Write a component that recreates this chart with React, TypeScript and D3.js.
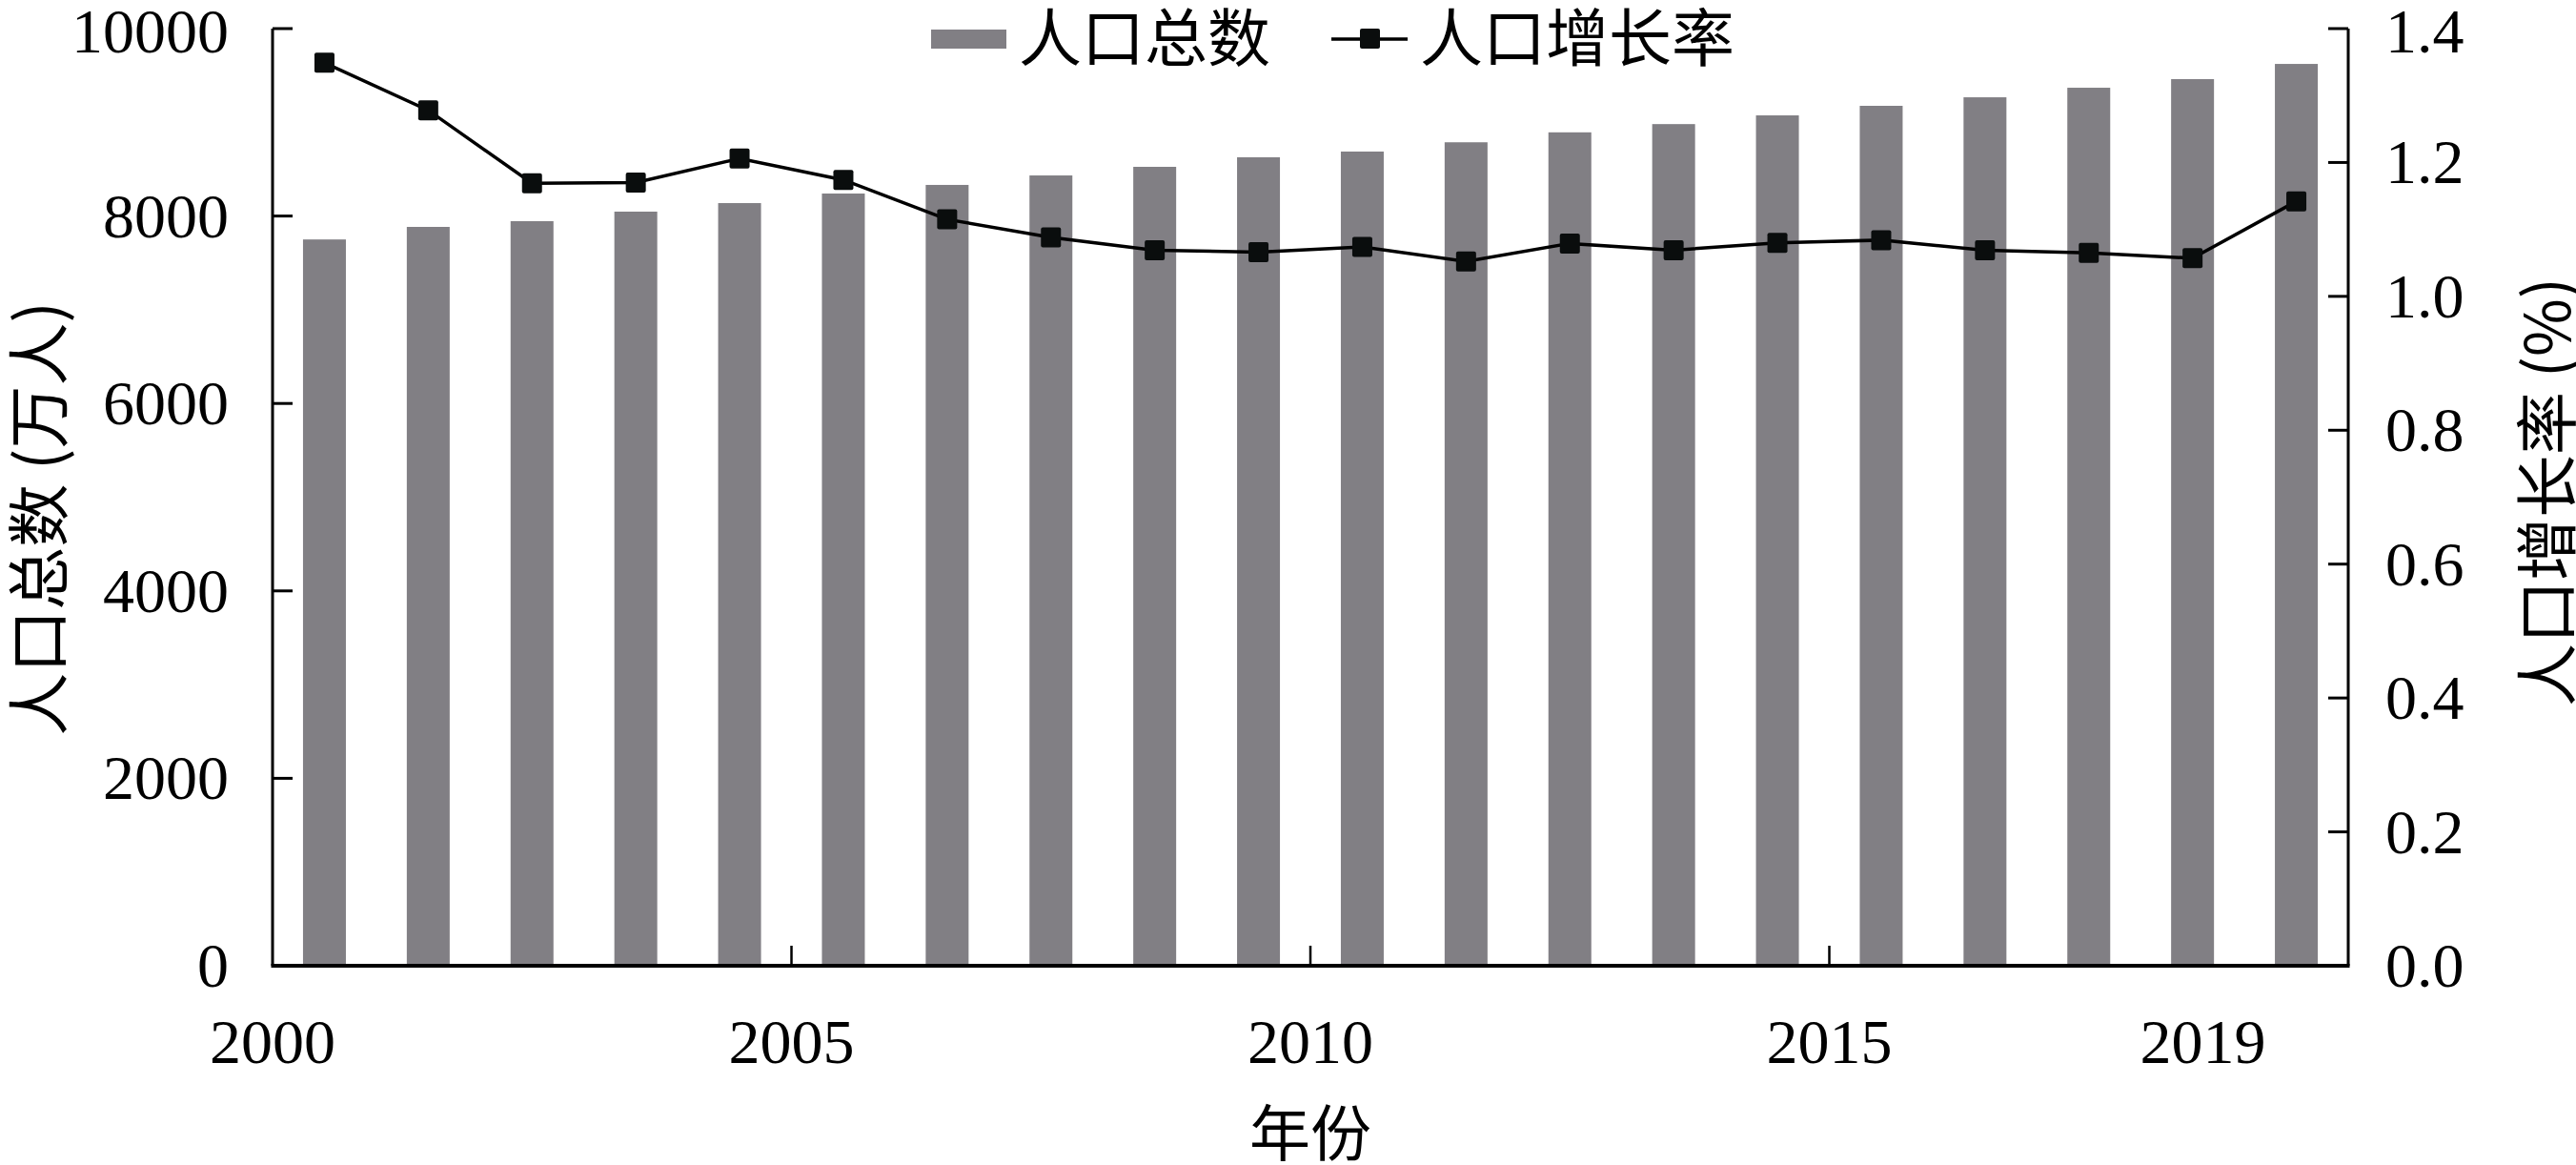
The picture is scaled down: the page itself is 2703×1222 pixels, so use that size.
import React from "react";
import * as d3 from "d3";

const years = [2000, 2001, 2002, 2003, 2004, 2005, 2006, 2007, 2008, 2009, 2010, 2011, 2012, 2013, 2014, 2015, 2016, 2017, 2018, 2019];
const population = [7750, 7884, 7945, 8047, 8138, 8240, 8332, 8433, 8525, 8627, 8688, 8787, 8893, 8981, 9074, 9176, 9267, 9369, 9461, 9623];
const growthRate = [1.349, 1.278, 1.169, 1.17, 1.206, 1.174, 1.115, 1.088, 1.069, 1.066, 1.074, 1.052, 1.079, 1.069, 1.08, 1.084, 1.069, 1.065, 1.057, 1.142];
const leftTicks = [0, 2000, 4000, 6000, 8000, 10000];
const rightTicks = [0, 0.2, 0.4, 0.6, 0.8, 1.0, 1.2, 1.4];
const xTickMarks = [2005, 2010, 2015];
const xTickLabels = [
  { pos: 2000, label: "2000" },
  { pos: 2005, label: "2005" },
  { pos: 2010, label: "2010" },
  { pos: 2015, label: "2015" },
  { pos: 2018.6, label: "2019" },
];
const seriesNames = ["人口总数", "人口增长率"];
const xTitle = "年份";
const leftTitle = "人口总数 (万人)";
const rightTitle = "人口增长率 (%)";

const W = 2703;
const H = 1222;
const L = 286;
const R = 2464;
const T = 30;
const B = 1013;
const BAR = "#817f84";
const FONT = "'Liberation Serif', 'Times New Roman', 'Noto Sans CJK SC', serif";
const CJK = "'Noto Sans CJK SC', 'Liberation Serif', serif";
const FS = 66;

export default function App() {
  const x = d3.scaleLinear().domain([2000, 2020]).range([L, R]);
  const yL = d3.scaleLinear().domain([0, 10000]).range([B, T]);
  const yR = d3.scaleLinear().domain([0, 1.4]).range([B, T]);
  const barW = 45;
  const tickLen = 21;
  const line = d3
    .line<number>()
    .x((_, i) => x(years[i] + 0.5))
    .y((d) => yR(d));
  const ms = 21;

  return (
    <svg
      width={W}
      height={H}
      viewBox={`0 0 ${W} ${H}`}
      style={{ position: "absolute", left: 0, top: 0, background: "#fff" }}
    >
      <rect x={0} y={0} width={W} height={H} fill="#fff" />
      {population.map((v, i) => (
        <rect
          key={"b" + i}
          x={x(years[i] + 0.5) - barW / 2}
          y={yL(v)}
          width={barW}
          height={yL(0) - yL(v)}
          fill={BAR}
        />
      ))}
      <g stroke="#000" strokeWidth={3} fill="none">
        <line x1={L} y1={T} x2={L} y2={B} />
        <line x1={R} y1={T} x2={R} y2={B} />
        <line x1={L - 1.5} y1={B} x2={R + 1.5} y2={B} strokeWidth={4} />
        {leftTicks.map((t) => (
          <line key={"lt" + t} x1={L} x2={L + tickLen} y1={yL(t)} y2={yL(t)} />
        ))}
        {rightTicks.map((t) => (
          <line key={"rt" + t} x1={R} x2={R - tickLen} y1={yR(t)} y2={yR(t)} />
        ))}
        {xTickMarks.map((t) => (
          <line key={"xt" + t} x1={x(t)} x2={x(t)} y1={B} y2={B - tickLen} strokeWidth={2.5} />
        ))}
      </g>
      <path d={line(growthRate) || ""} fill="none" stroke="#000" strokeWidth={3.5} />
      {growthRate.map((v, i) => (
        <rect
          key={"m" + i}
          x={x(years[i] + 0.5) - ms / 2}
          y={yR(v) - ms / 2}
          width={ms}
          height={ms}
          rx={2}
          fill="#0a0d0d"
        />
      ))}
      <g fontFamily={FONT} fontSize={FS} fill="#000">
        {leftTicks.map((t) => (
          <text key={"ll" + t} x={240} y={yL(t) + 22 + (t === 10000 ? 3 : 0)} textAnchor="end">
            {String(t)}
          </text>
        ))}
        {rightTicks.map((t) => (
          <text key={"rl" + t} x={2503} y={yR(t) + 22 + (t === 1.4 ? 3 : 0)} textAnchor="start">
            {t.toFixed(1)}
          </text>
        ))}
        {xTickLabels.map((t) => (
          <text key={"xl" + t.label} x={x(t.pos)} y={1115} textAnchor="middle">
            {t.label}
          </text>
        ))}
      </g>
      <text x={x(2010)} y={1184} fontFamily={CJK} fontSize={64} textAnchor="middle" dominantBaseline="central">
        {xTitle}
      </text>
      <text
        transform={`translate(36,544) rotate(-90)`}
        fontFamily={CJK}
        fontSize={FS}
        textAnchor="middle"
        dominantBaseline="central"
      >
        {leftTitle}
      </text>
      <text
        transform={`translate(2668,516) rotate(-90)`}
        fontFamily={CJK}
        fontSize={FS}
        textAnchor="middle"
        dominantBaseline="central"
      >
        {rightTitle}
      </text>
      <rect x={977} y={31} width={79} height={20} fill={BAR} />
      <text x={1069} y={35} fontFamily={CJK} fontSize={FS} dominantBaseline="central">
        {seriesNames[0]}
      </text>
      <line x1={1397} x2={1477} y1={41} y2={41} stroke="#000" strokeWidth={3.5} />
      <rect x={1427} y={30} width={21} height={21} rx={2} fill="#0a0d0d" />
      <text x={1490} y={35} fontFamily={CJK} fontSize={FS} dominantBaseline="central">
        {seriesNames[1]}
      </text>
    </svg>
  );
}
